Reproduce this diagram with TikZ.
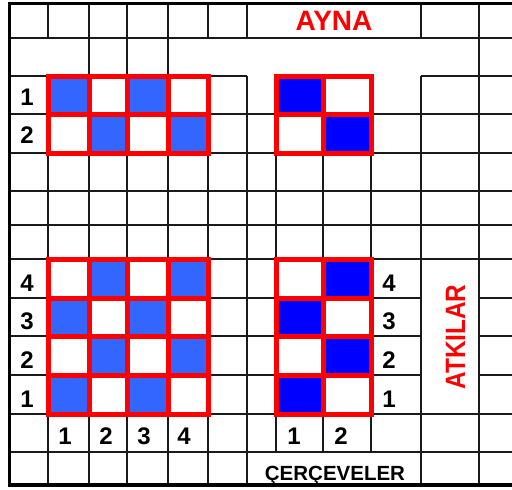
\documentclass[tikz,border=0pt]{standalone}
\usepackage{fontspec}
\setmainfont{Liberation Sans}
\definecolor{weaveRed}{HTML}{FF0000}
\definecolor{liftBlue}{HTML}{3366FF}
\definecolor{deepBlue}{HTML}{0000FF}
\definecolor{gridInk}{HTML}{1A1A1A}

\begin{document}
\begin{tikzpicture}[
  x=1pt, y=-1pt,
  gridline/.style={line width=1.5pt, color=gridInk},
  frameline/.style={line width=3.2pt, color=black, line join=miter},
  redframe/.style={draw=weaveRed, line width=5pt},
  liftcell/.style={fill=liftBlue},
  deepcell/.style={fill=deepBlue},
  numlabel/.style={font=\fontsize{24}{24}\selectfont\bfseries, inner sep=0pt},
  redtitle/.style={font=\fontsize{28}{28}\selectfont\bfseries, text=weaveRed, inner sep=0pt},
  blacktitle/.style={font=\fontsize{20.5}{20.5}\selectfont\bfseries, inner sep=0pt}
]
  \useasboundingbox (0,0) rectangle (512,490);

  % grid
  \foreach \y in {38,114,153,191,225,259,414,452}
    \draw[gridline] (9,\y) -- (512,\y);
  \foreach \y in {298,336,375} {
    \draw[gridline] (9,\y) -- (421,\y);
    \draw[gridline] (479,\y) -- (512,\y);
  }
  \draw[gridline] (9,76) -- (247,76);
  \draw[gridline] (421,76) -- (512,76);
  \foreach \x in {89,127,168,479}
    \draw[gridline] (\x,3) -- (\x,485);
  \foreach \x in {48,208,247,421} {
    \draw[gridline] (\x,3) -- (\x,38);
    \draw[gridline] (\x,76) -- (\x,485);
  }
  \foreach \x in {276,323,371}
    \draw[gridline] (\x,76) -- (\x,452);
  \draw[frameline] (512,3.5) -- (9.5,3.5) -- (9.5,485) -- (512,485);

  % lifted cells
  \foreach \xa/\ya/\xb/\yb in {48/76/89/114, 127/76/168/114, 89/114/127/153, 168/114/208/153,
      89/259/127/298, 168/259/208/298, 48/298/89/336, 127/298/168/336,
      89/336/127/375, 168/336/208/375, 48/375/89/414, 127/375/168/414}
    \fill[liftcell] (\xa,\ya) rectangle (\xb,\yb);
  \foreach \xa/\ya/\xb/\yb in {276/76/323/114, 323/114/371/153,
      323/259/371/298, 276/298/323/336, 323/336/371/375, 276/375/323/414}
    \fill[deepcell] (\xa,\ya) rectangle (\xb,\yb);

  % red boxes
  \draw[redframe] (48,76) rectangle (208,153);
  \foreach \x in {89,127,168} \draw[redframe] (\x,76) -- (\x,153);
  \draw[redframe] (48,114) -- (208,114);
  \draw[redframe] (276,76) rectangle (371,153);
  \draw[redframe] (323,76) -- (323,153);
  \draw[redframe] (276,114) -- (371,114);
  \draw[redframe] (48,259) rectangle (208,414);
  \foreach \x in {89,127,168} \draw[redframe] (\x,259) -- (\x,414);
  \foreach \y in {298,336,375} \draw[redframe] (48,\y) -- (208,\y);
  \draw[redframe] (276,259) rectangle (371,414);
  \draw[redframe] (323,259) -- (323,414);
  \foreach \y in {298,336,375} \draw[redframe] (276,\y) -- (371,\y);

  % labels
  \node[redtitle, anchor=base] (ayna) at (334,30) {AYNA};
  \node[redtitle, anchor=base, rotate=90] (atkilar) at (465,337) {\scalebox{0.87}[1]{ATKILAR}};
  \node[blacktitle, anchor=base] (cerceve) at (335,480) {ÇERÇEVELER};

  \foreach \n/\y in {1/97.5, 2/135.5}
    \node[numlabel] (lift\n) at (27,\y) {\n};
  \foreach \n/\y in {4/283.5, 3/321.5, 2/360, 1/399} {
    \node[numlabel] (weftL\n) at (27,\y) {\n};
    \node[numlabel] (weftR\n) at (389,\y) {\n};
  }
  \foreach \n/\x in {1/65, 2/106, 3/144, 4/184}
    \node[numlabel] (shaftA\n) at (\x,436) {\n};
  \foreach \n/\x in {1/294, 2/341}
    \node[numlabel] (shaftB\n) at (\x,436) {\n};
\end{tikzpicture}
\end{document}
